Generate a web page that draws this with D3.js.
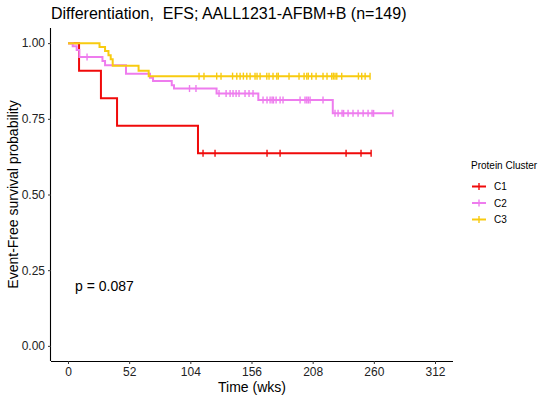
<!DOCTYPE html>
<html>
<head>
<meta charset="utf-8">
<script src="https://cdn.jsdelivr.net/npm/d3@7"></script>
<style>
  html, body { margin: 0; padding: 0; background: #fff; }
  svg { display: block; font-family: "Liberation Sans", Arial, sans-serif; }
</style>
</head>
<body>
<svg id="chart" width="550" height="400"></svg>
<script>
// ---- data ----
const titleText = "Differentiation,  EFS; AALL1231-AFBM+B (n=149)";
const groups = ["C1", "C2", "C3"];
const groupColors = ["#F00A0A", "#EE7CEE", "#F8CB10"];
const xTicks = [0, 52, 104, 156, 208, 260, 312];
const yTicks = [0, 0.25, 0.5, 0.75, 1];
const pValueText = "p = 0.087";

// step points: [time (wks), survival]
const c1Steps = [[0, 1], [9.4, 0.909], [28, 0.818], [41.7, 0.727], [110.5, 0.636]];
const c1End = 257.7;
const c1Censor = [114.8, 125, 169.2, 180.3, 236.4, 249.1, 257.7];

const c2Steps = [[0, 1], [4.0, 0.990], [7.4, 0.977], [9.6, 0.954], [29.3, 0.941], [31.5, 0.927],
  [49.3, 0.899], [69.7, 0.886], [72.3, 0.875], [88.2, 0.861], [90.1, 0.850], [126.3, 0.834],
  [161.8, 0.812], [225.1, 0.768]];
const c2End = 276.2;
const c2Censor = [16.2, 103.3, 108.8, 128.4, 134.4, 137.8, 140.3, 142.9, 145.4, 150.5, 153.9, 157.3,
  165.8, 169.2, 171.8, 173.5, 174.7, 176.9, 180.3, 182.8, 197.3, 201.5, 203.0, 204.3, 205.8, 216.8,
  227.0, 229.6, 233.0, 234.3, 238.1, 242.3, 246.6, 250.9, 255.1, 258.5, 259.8, 276.2];

const c3Steps = [[0, 1], [26.8, 0.987], [31.5, 0.974], [34.4, 0.960], [36.3, 0.947], [38.0, 0.925],
  [60.0, 0.909], [68.6, 0.891]];
const c3End = 256.8;
const c3Censor = [111.4, 115.6, 126.4, 130.1, 139.9, 143.5, 146.3, 149.1, 152.0, 154.8, 159.0, 160.7,
  163.3, 169.0, 170.9, 174.3, 177.5, 178.8, 187.9, 196.4, 200.7, 203.0, 204.3, 207.2, 210.9, 216.8,
  220.2, 224.2, 225.6, 227.0, 228.5, 232.7, 246.9, 249.7, 252.6, 256.8];

const series = [
  { name: groups[0], color: groupColors[0], steps: c1Steps, end: c1End, censor: c1Censor },
  { name: groups[1], color: groupColors[1], steps: c2Steps, end: c2End, censor: c2Censor },
  { name: groups[2], color: groupColors[2], steps: c3Steps, end: c3End, censor: c3Censor }
];

// ---- layout ----
const svg = d3.select("#chart");
const panel = { left: 51, right: 453, top: 28, bottom: 361 };

const x = d3.scaleLinear().domain([-14.45, 327.3]).range([panel.left, panel.right]);
const y = d3.scaleLinear().domain([-0.05, 1.05]).range([panel.bottom, panel.top]);

// title
svg.append("text")
  .attr("x", 51).attr("y", 19)
  .attr("font-size", 16)
  .attr("fill", "#000")
  .style("white-space", "pre")
  .attr("xml:space", "preserve")
  .text(titleText);

// axes
const xAxis = svg.append("g")
  .attr("transform", `translate(0,${panel.bottom})`)
  .call(d3.axisBottom(x).tickValues(xTicks).tickSize(3).tickPadding(3).tickFormat(d3.format("d")));
xAxis.select(".domain").attr("d", `M${panel.left},0.5H${panel.right}`).attr("stroke", "#000").attr("stroke-width", 1.1);
xAxis.selectAll(".tick line").attr("stroke", "#333");
xAxis.selectAll(".tick text").attr("font-size", 12).attr("fill", "#222").attr("font-family", "Liberation Sans, Arial, sans-serif");

const yAxis = svg.append("g")
  .attr("transform", `translate(${panel.left},0)`)
  .call(d3.axisLeft(y).tickValues(yTicks).tickSize(3).tickPadding(3).tickFormat(d3.format(".2f")));
yAxis.select(".domain").attr("d", `M-0.5,${panel.top}V${panel.bottom}`).attr("stroke", "#000").attr("stroke-width", 1.1);
yAxis.selectAll(".tick line").attr("stroke", "#333");
yAxis.selectAll(".tick text").attr("font-size", 12).attr("fill", "#222").attr("font-family", "Liberation Sans, Arial, sans-serif");

// axis titles
svg.append("text")
  .attr("x", (panel.left + panel.right) / 2).attr("y", 392)
  .attr("text-anchor", "middle").attr("font-size", 14).attr("fill", "#000")
  .text("Time (wks)");
svg.append("text")
  .attr("transform", `translate(18,${(panel.top + panel.bottom) / 2}) rotate(-90)`)
  .attr("text-anchor", "middle").attr("font-size", 14).attr("fill", "#000")
  .text("Event-Free survival probability");

// curves
const stepLine = d3.line().curve(d3.curveStepAfter).x(d => x(d[0])).y(d => y(d[1]));
function survAt(steps, t) {
  let s = steps[0][1];
  for (const st of steps) { if (st[0] <= t) s = st[1]; }
  return s;
}
const curves = svg.append("g");
series.forEach(sr => {
  const pts = sr.steps.concat([[sr.end, sr.steps[sr.steps.length - 1][1]]]);
  curves.append("path")
    .attr("d", stepLine(pts))
    .attr("fill", "none")
    .attr("stroke", sr.color)
    .attr("stroke-width", 2);
  curves.selectAll(null).data(sr.censor).enter().append("line")
    .attr("x1", d => x(d)).attr("x2", d => x(d))
    .attr("y1", d => y(survAt(sr.steps, d)) - 3.5)
    .attr("y2", d => y(survAt(sr.steps, d)) + 3.5)
    .attr("stroke", sr.color)
    .attr("stroke-width", 1.4);
});

// p-value
svg.append("text")
  .attr("x", 75).attr("y", 291)
  .attr("font-size", 14).attr("fill", "#000")
  .text(pValueText);

// legend
const legend = svg.append("g");
legend.append("text").attr("x", 471).attr("y", 168.5).attr("font-size", 10).attr("fill", "#000").text("Protein Cluster");
series.forEach((sr, i) => {
  const ly = 186.5 + i * 16.5;
  legend.append("line").attr("x1", 472).attr("x2", 486).attr("y1", ly).attr("y2", ly)
    .attr("stroke", sr.color).attr("stroke-width", 2);
  legend.append("line").attr("x1", 479).attr("x2", 479).attr("y1", ly - 3.5).attr("y2", ly + 3.5)
    .attr("stroke", sr.color).attr("stroke-width", 1.4);
  legend.append("text").attr("x", 494).attr("y", ly + 3.5).attr("font-size", 10).attr("fill", "#000").text(sr.name);
});
</script>
</body>
</html>
